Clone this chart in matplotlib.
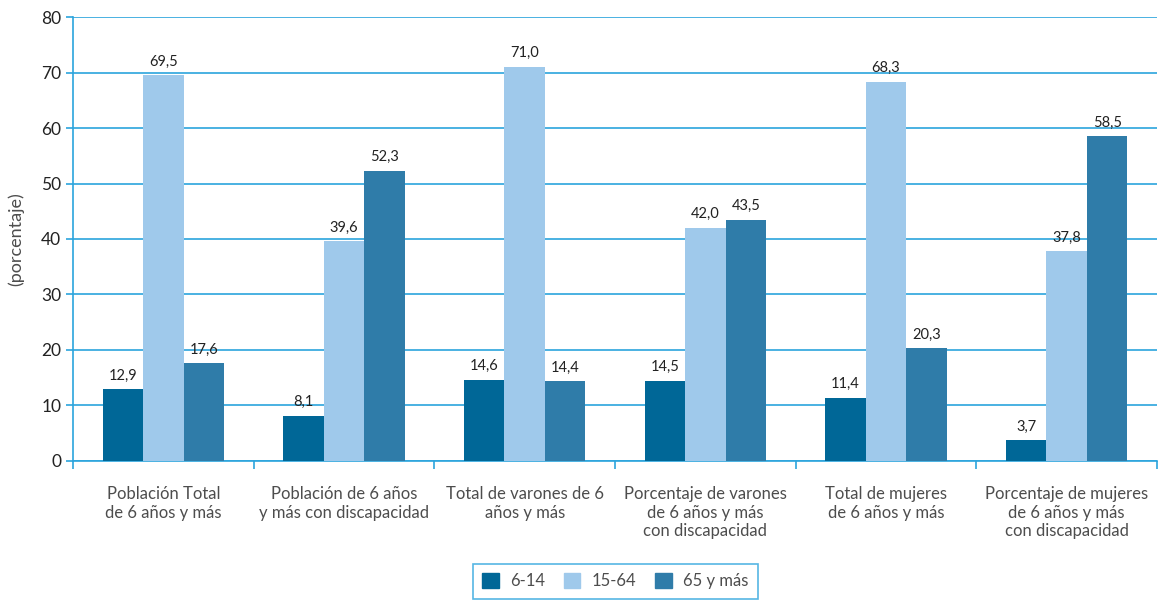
import numpy as np
import matplotlib.pyplot as plt
from matplotlib.patches import Patch

plt.rcParams['font.family'] = ['Lato', 'DejaVu Sans']

categories = ['Población Total\nde 6 años y más',
              'Población de 6 años\ny más con discapacidad',
              'Total de varones de 6\naños y más',
              'Porcentaje de varones\nde 6 años y más\ncon discapacidad',
              'Total de mujeres\nde 6 años y más',
              'Porcentaje de mujeres\nde 6 años y más\ncon discapacidad']
series_names = ['6-14', '15-64', '65 y más']
v_6_14 = [12.9, 8.1, 14.6, 14.5, 11.4, 3.7]
v_15_64 = [69.5, 39.6, 71.0, 42.0, 68.3, 37.8]
v_65 = [17.6, 52.3, 14.4, 43.5, 20.3, 58.5]
colors = ['#006797', '#9fc9eb', '#2f7ca9']

text_col = '#4d4d4d'
grid_col = '#2ba4dd'

fig = plt.figure(figsize=(11.61, 6.03), dpi=100)
ax = fig.add_axes([0.0629, 0.2355, 0.9337, 0.7363])

x = np.arange(len(categories))
w = 0.224
for i, (vals, name) in enumerate(zip([v_6_14, v_15_64, v_65], series_names)):
    pos = x + (i - 1) * w
    ax.bar(pos, vals, width=w, color=colors[i], zorder=3, label=name)
    for p, v in zip(pos, vals):
        ax.text(p, v + 1.2, f'{v:.1f}'.replace('.', ','), ha='center', va='bottom',
                fontsize=10.5, color='#222222', zorder=4)

ax.set_xlim(-0.5, len(categories) - 0.5)
ax.set_ylim(0, 80)
ax.set_yticks(range(0, 81, 10))
ax.yaxis.grid(True, color=grid_col, linewidth=1.2, zorder=0)
ax.set_axisbelow(True)

ax.set_xticks(x)
ax.set_xticklabels(categories, fontsize=12, color=text_col, linespacing=1.2)
ax.tick_params(axis='x', which='major', length=0, pad=18)
ax.set_xticks(np.arange(-0.5, len(categories), 1), minor=True)
ax.tick_params(axis='x', which='minor', length=6, color=grid_col, width=1.2)
ax.tick_params(axis='y', labelsize=12.5, labelcolor='#222222', length=5, color=grid_col, width=1.2)

for s in ['top', 'right']:
    ax.spines[s].set_visible(False)
for s in ['left', 'bottom']:
    ax.spines[s].set_color(grid_col)
    ax.spines[s].set_linewidth(1.2)

ax.set_ylabel('(porcentaje)', fontsize=13, color=text_col, labelpad=12)

# legend box below the chart
handles = [Patch(color=c, label=n) for c, n in zip(colors, series_names)]
leg = fig.legend(handles=handles, loc='center', bbox_to_anchor=(0.530, 0.036), ncol=3,
                 frameon=True, fancybox=False, fontsize=12, handlelength=1.0,
                 handleheight=1.0, handletextpad=0.7, columnspacing=1.1, borderpad=0.55)
leg.get_frame().set_edgecolor(grid_col)
leg.get_frame().set_linewidth(1.2)
for t in leg.get_texts():
    t.set_color(text_col)

fig.savefig('out.png', dpi=100)
